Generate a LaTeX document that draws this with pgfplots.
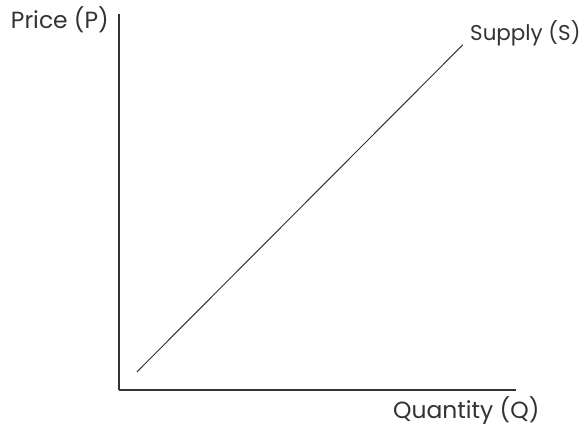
\documentclass[border=0pt]{standalone}
\usepackage{pgfplots}
\pgfplotsset{compat=1.18}
\usepackage{fontspec}
\setmainfont{Poppins}
\definecolor{ink}{HTML}{333333}
\begin{document}
\begin{tikzpicture}[x=1bp,y=1bp]
\useasboundingbox (-119bp,-36bp) rectangle (467bp,390bp);
\begin{axis}[
  at={(0,0)}, anchor=origin,
  scale only axis, width=397bp, height=376bp,
  xmin=0, xmax=10, ymin=0, ymax=10,
  axis lines=left, axis line style={ink, line width=1.3pt, -},
  xtick=\empty, ytick=\empty,
  clip=false,
]
\addplot[ink, line width=1pt] coordinates {(0.45,0.48) (8.66,9.18)};
\end{axis}
\node[anchor=east, text=ink, font=\fontsize{23.5}{25}\selectfont, inner sep=0pt] at (-10bp,370bp) {Price (P)};
\node[anchor=west, text=ink, font=\fontsize{21.5}{24}\selectfont, inner sep=0pt] at (351bp,357bp) {Supply (S)};
\node[anchor=west, text=ink, font=\fontsize{23.5}{25}\selectfont, inner sep=0pt] at (274bp,-21bp) {Quantity (Q)};
\end{tikzpicture}
\end{document}
